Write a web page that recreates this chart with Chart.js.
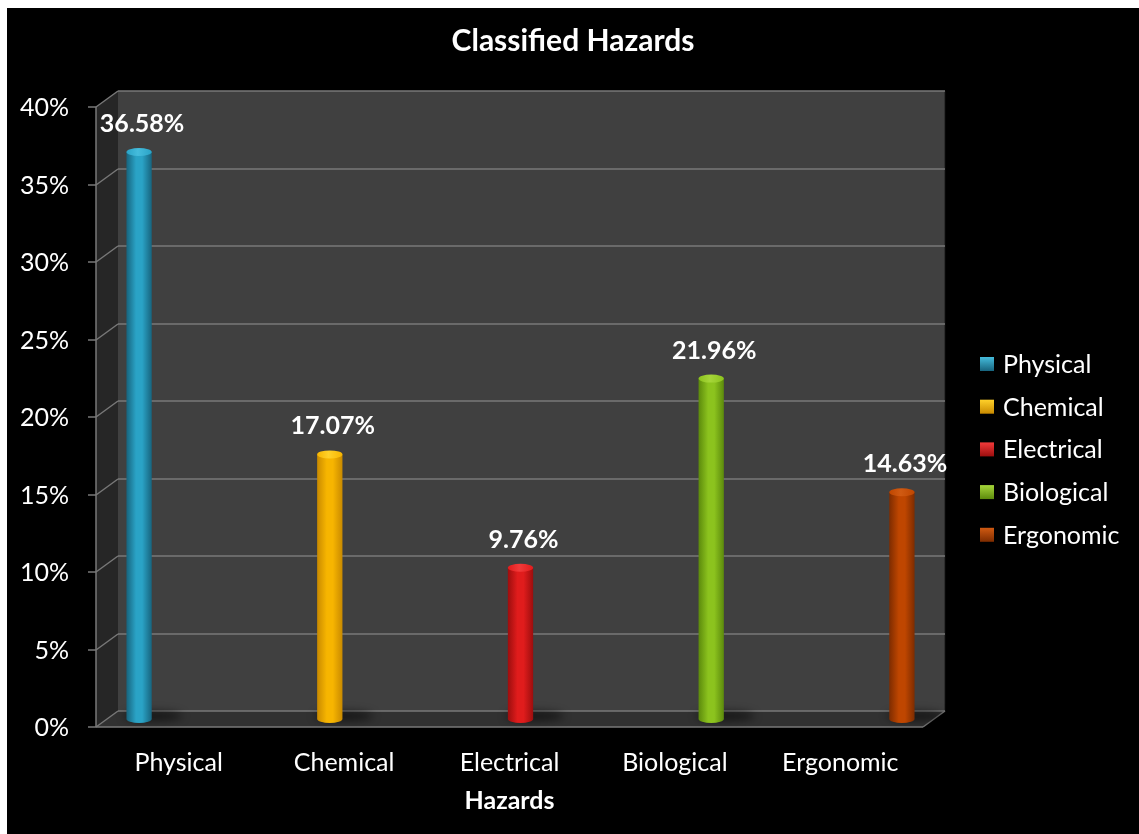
<!DOCTYPE html>
<html><head><meta charset="utf-8">
<script src="https://cdn.jsdelivr.net/npm/chart.js@4.4.1/dist/chart.umd.min.js"></script>
<style>html,body{margin:0;padding:0;background:#fff;overflow:hidden}#wrap{width:1139px;height:834px;position:relative}</style>
</head><body><div id="wrap"><canvas id="c" width="1139" height="834"></canvas></div>
<script>
const categories = ['Physical', 'Chemical', 'Electrical', 'Biological', 'Ergonomic'];
const seriesNames = ['Physical', 'Chemical', 'Electrical', 'Biological', 'Ergonomic'];
const values = [36.58, 17.07, 9.76, 21.96, 14.63];
const valueLabels = ['36.58%', '17.07%', '9.76%', '21.96%', '14.63%'];
const yTickValues = [0, 5, 10, 15, 20, 25, 30, 35, 40];
const chartTitle = 'Classified Hazards';
const xAxisTitle = 'Hazards';

const midColors  = ['#2aa3c6', '#f7b500', '#e01c1c', '#8cc31e', '#bf4600'];
const edgeColors = ['#17647e', '#c98a00', '#9c0e0e', '#5c8a0c', '#7e2c00'];
const topColors  = ['#45bcdc', '#ffd12a', '#f23a3a', '#a6d63a', '#d05a12'];

const FONT = 'Lato, "Open Sans", sans-serif';
const CAT_PCT = 0.765;
const DX = 11, DY = 8;

function seriesData(i) { return categories.map((c, j) => (i === j ? values[j] : null)); }

function barGradient(ctx, x, w, i) {
  const g = ctx.createLinearGradient(x - w / 2, 0, x + w / 2, 0);
  g.addColorStop(0, edgeColors[i]);
  g.addColorStop(0.38, midColors[i]);
  g.addColorStop(0.62, midColors[i]);
  g.addColorStop(1, edgeColors[i]);
  return g;
}

const datasets = seriesNames.map((name, i) => ({
  label: name,
  data: seriesData(i),
  borderWidth: 0,
  backgroundColor: (c) => {
    const chart = c.chart;
    if (c.type !== 'data' || !chart.chartArea) return midColors[i];
    const xs = chart.scales.x;
    const cw = xs.getPixelForValue(1) - xs.getPixelForValue(0);
    const slot = cw * CAT_PCT / seriesNames.length;
    const cx = xs.getPixelForValue(c.dataIndex) + (c.datasetIndex - 2) * slot;
    return barGradient(chart.ctx, cx, slot, i);
  }
}));

function poly(ctx, pts, fill) {
  ctx.beginPath(); ctx.moveTo(pts[0][0], pts[0][1]);
  for (let k = 1; k < pts.length; k++) ctx.lineTo(pts[k][0], pts[k][1]);
  ctx.closePath(); ctx.fillStyle = fill; ctx.fill();
}
function line(ctx, x1, y1, x2, y2) { ctx.beginPath(); ctx.moveTo(x1, y1); ctx.lineTo(x2, y2); ctx.stroke(); }

const scene = {
  id: 'scene',
  beforeDraw(chart) {
    const { ctx, chartArea: a } = chart;
    const L = a.left, R = a.right, T = a.top, B = a.bottom;
    ctx.save();
    ctx.fillStyle = '#ffffff'; ctx.fillRect(0, 0, chart.width, chart.height);
    ctx.fillStyle = '#000000'; ctx.fillRect(7, 8, chart.width - 7, chart.height - 8);
    ctx.fillStyle = '#404040'; ctx.fillRect(L + DX, T - DY, R - L, B - T);
    poly(ctx, [[L - DX, T + DY], [L + DX, T - DY], [L + DX, B - DY], [L - DX, B + DY]], '#262626');
    poly(ctx, [[L - DX, B + DY], [R - DX, B + DY], [R + DX, B - DY], [L + DX, B - DY]], '#313131');
    ctx.strokeStyle = 'rgba(20,20,20,0.8)'; ctx.lineWidth = 1;
    line(ctx, R + DX, T - DY, R + DX, B - DY);
    const ys = chart.scales.y;
    ctx.strokeStyle = '#787878'; ctx.lineWidth = 1.5;
    ys.ticks.forEach(t => {
      const y = Math.round(ys.getPixelForValue(t.value));
      line(ctx, L - DX, y + DY, L + DX, y - DY);
      line(ctx, L + DX, y - DY, R + DX, y - DY);
      line(ctx, L - DX - 8, y + DY, L - DX, y + DY);
    });
    line(ctx, L - DX, T + DY, L - DX, B + DY);
    line(ctx, L - DX, B + DY, R - DX, B + DY);
    line(ctx, R - DX, B + DY, R + DX, B - DY);
    // chart title
    ctx.fillStyle = '#ffffff';
    ctx.font = 'bold 30px ' + FONT;
    ctx.textAlign = 'center'; ctx.textBaseline = 'middle';
    ctx.fillText(chartTitle, 573, 41);
    ctx.restore();
  },
  beforeDatasetsDraw(chart) {
    const ctx = chart.ctx;
    ctx.save();
    chart.data.datasets.forEach((ds, i) => {
      chart.getDatasetMeta(i).data.forEach((el, j) => {
        if (ds.data[j] == null) return;
        ctx.save();
        ctx.filter = 'blur(4px)';
        ctx.fillStyle = 'rgba(0,0,0,0.55)';
        ctx.beginPath();
        ctx.ellipse(el.x + 14, el.base - 3, el.width * 1.15, 5, 0, 0, Math.PI * 2);
        ctx.fill();
        ctx.restore();
      });
    });
    ctx.restore();
  },
  afterDatasetsDraw(chart) {
    const ctx = chart.ctx;
    ctx.save();
    chart.data.datasets.forEach((ds, i) => {
      chart.getDatasetMeta(i).data.forEach((el, j) => {
        if (ds.data[j] == null) return;
        const x = el.x, w = el.width, top = el.y, base = el.base;
        ctx.fillStyle = barGradient(ctx, x, w, i);
        ctx.beginPath(); ctx.ellipse(x, base, w / 2, 4, 0, 0, Math.PI); ctx.fill();
        const tg = ctx.createLinearGradient(x - w / 2, 0, x + w / 2, 0);
        tg.addColorStop(0, midColors[i]); tg.addColorStop(0.45, topColors[i]); tg.addColorStop(1, midColors[i]);
        ctx.fillStyle = tg;
        ctx.beginPath(); ctx.ellipse(x, top, w / 2, 4, 0, 0, Math.PI * 2); ctx.fill();
        ctx.fillStyle = '#ffffff';
        ctx.font = 'bold 25px ' + FONT;
        ctx.textAlign = 'center'; ctx.textBaseline = 'middle';
        ctx.fillText(valueLabels[j], x + 3, top - 28);
      });
    });
    ctx.restore();
  },
  afterDraw(chart) {
    const ctx = chart.ctx;
    ctx.save();
    ctx.fillStyle = '#ffffff';
    ctx.font = 'bold 25px ' + FONT;
    ctx.textAlign = 'center'; ctx.textBaseline = 'middle';
    ctx.fillText(xAxisTitle, chart.chartArea.left + (chart.chartArea.right - chart.chartArea.left) / 2 - DX, 801);
    ctx.font = '25px ' + FONT;
    ctx.textAlign = 'left';
    seriesNames.forEach((n, i) => {
      const y = 364 + i * 42.7;
      const g = ctx.createLinearGradient(980, y - 7, 980, y + 7);
      g.addColorStop(0, topColors[i]); g.addColorStop(1, edgeColors[i]);
      ctx.fillStyle = g;
      ctx.fillRect(980, y - 7, 14, 14);
      ctx.fillStyle = '#ffffff';
      ctx.fillText(n, 1003, y + 1);
    });
    ctx.restore();
  }
};

new Chart(document.getElementById('c'), {
  type: 'bar',
  data: { labels: categories, datasets },
  options: {
    responsive: false,
    animation: false,
    events: [],
    layout: { padding: { left: 0, right: 205, top: 99, bottom: 0 } },
    datasets: { bar: { categoryPercentage: CAT_PCT, barPercentage: 1.0 } },
    plugins: {
      legend: { display: false },
      tooltip: { enabled: false },
      title: { display: false }
    },
    scales: {
      x: {
        grid: { display: false, drawTicks: false },
        border: { display: false },
        ticks: { color: '#ffffff', font: { family: FONT, size: 25 }, padding: 29, labelOffset: -DX, maxRotation: 0 },
        afterFit: s => { s.height = 115; }
      },
      y: {
        min: 0, max: 40,
        afterBuildTicks: s => { s.ticks = yTickValues.map(v => ({ value: v })); },
        grid: { display: false, drawTicks: false },
        border: { display: false },
        ticks: { color: '#ffffff', font: { family: FONT, size: 25 }, padding: 38, labelOffset: 9, callback: v => v + '%' },
        afterFit: s => { s.width = 107; }
      }
    }
  },
  plugins: [scene]
});
</script>
</body></html>
